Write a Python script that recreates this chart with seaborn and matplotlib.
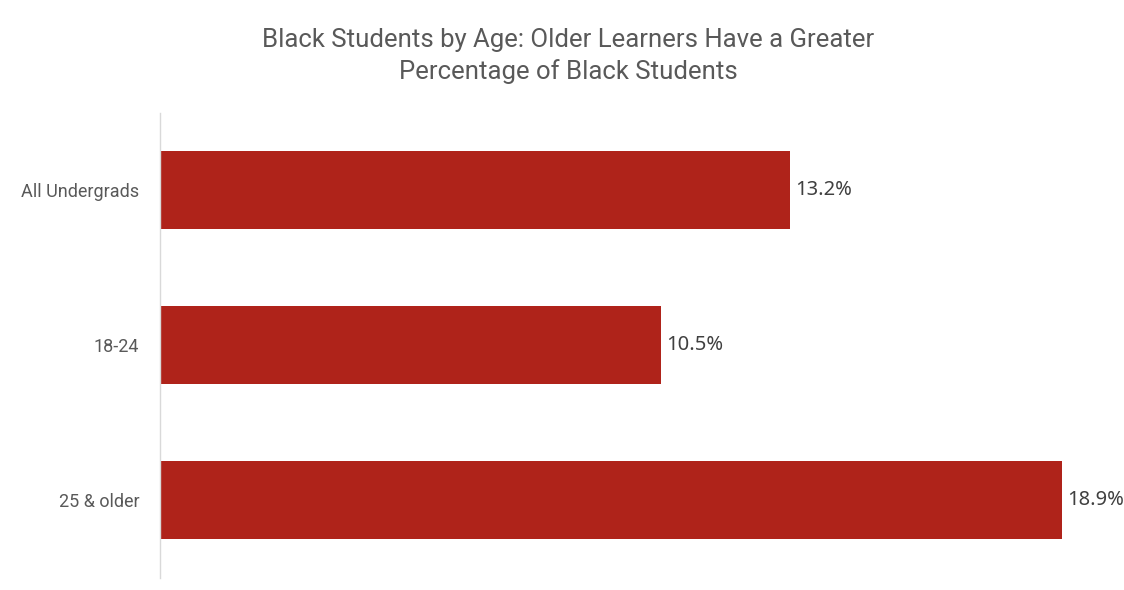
import matplotlib
matplotlib.use("Agg")
import matplotlib.pyplot as plt
import seaborn as sns
import pandas as pd

categories = ["All Undergrads", "18-24", "25 & older"]
shares = [13.2, 10.5, 18.9]
value_labels = ["13.2%", "10.5%", "18.9%"]

title_text = "Black Students by Age: Older Learners Have a Greater\nPercentage of Black Students"

BAR_COLOR = "#AF231A"
TEXT_GRAY = "#595959"

sns.set_theme(style="white")
plt.rcParams["font.family"] = ["Roboto", "DejaVu Sans"]

df = pd.DataFrame({"group": categories, "share": shares})

fig = plt.figure(figsize=(11.24, 5.9), dpi=100)
ax = fig.add_axes([160 / 1124, 1 - 577.5 / 590, (1100 - 160) / 1124, (577.5 - 112.5) / 590])

sns.barplot(data=df, y="group", x="share", orient="h", color=BAR_COLOR,
            width=0.5, saturation=1, ax=ax, edgecolor="none")

ax.set_xlim(0, (1100 - 160) / 47.7)
ax.set_ylim(2.5, -0.5)
ax.set_xlabel("")
ax.set_ylabel("")
ax.set_xticks([])

for i, (v, lab) in enumerate(zip(shares, value_labels)):
    ax.text(v + 0.12, i, lab, va="center", ha="left", fontsize=14.5,
            color="#404040", family=["Noto Sans", "DejaVu Sans"], clip_on=False)

ax.tick_params(axis="y", length=0, pad=15, labelsize=13, labelcolor=TEXT_GRAY)

for side in ["top", "right", "bottom"]:
    ax.spines[side].set_visible(False)
ax.spines["left"].set_color("#D9D9D9")
ax.spines["left"].set_linewidth(1)

fig.text(568 / 1124, 1 - 56 / 590, title_text, ha="center", va="center",
         fontsize=18.5, color=TEXT_GRAY, linespacing=1.4)

fig.savefig("out.png", dpi=100, facecolor="white")
